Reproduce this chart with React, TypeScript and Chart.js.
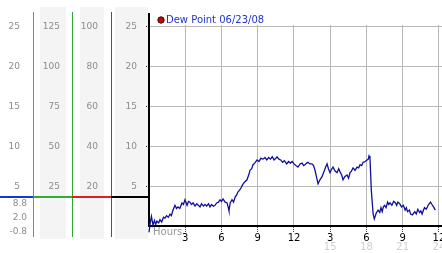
import React, { useEffect, useRef } from 'react';
import { Chart, registerables } from 'chart.js';

Chart.register(...registerables);

// ---------- data ----------
const seriesLabel = 'Dew Point 06/23/08';

const hours = [
  0.00, 0.10, 0.20, 0.33, 0.45, 0.55, 0.65, 0.80, 0.91, 1.05, 1.20, 1.32, 1.45, 1.60, 1.74, 1.85,
  1.99, 2.15, 2.28, 2.40, 2.55, 2.73, 2.85, 2.98, 3.15, 3.27, 3.39, 3.52, 3.65, 3.81, 3.95, 4.08,
  4.22, 4.35, 4.50, 4.64, 4.78, 4.92, 5.05, 5.18, 5.32, 5.46, 5.60, 5.75, 5.88, 6.00, 6.13, 6.30,
  6.46, 6.55, 6.62, 6.72, 6.87, 7.00, 7.12, 7.25, 7.37, 7.50, 7.62, 7.75, 7.90, 8.11, 8.25, 8.36,
  8.50, 8.61, 8.75, 8.94, 9.10, 9.25, 9.44, 9.60, 9.75, 9.90, 10.05, 10.20, 10.35, 10.50, 10.60, 10.75,
  10.90, 11.05, 11.20, 11.40, 11.55, 11.70, 11.85, 12.00, 12.15, 12.33, 12.50, 12.67, 12.80, 12.91, 13.05, 13.16,
  13.30, 13.49, 13.62, 13.74, 13.87, 13.99, 14.15, 14.32, 14.50, 14.62, 14.74, 14.85, 14.98, 15.10, 15.23, 15.40,
  15.56, 15.70, 15.81, 15.95, 16.06, 16.20, 16.39, 16.52, 16.64, 16.75, 16.89, 17.05, 17.22, 17.35, 17.47, 17.60,
  17.72, 17.90, 18.05, 18.15, 18.21, 18.29, 18.40, 18.55, 18.65, 18.80, 18.96, 19.10, 19.20, 19.30, 19.40, 19.50,
  19.62, 19.75, 19.85, 19.95, 20.10, 20.25, 20.40, 20.50, 20.60, 20.75, 20.90, 21.05, 21.20, 21.30, 21.40, 21.55,
  21.65, 21.80, 21.90, 22.00, 22.12, 22.25, 22.40, 22.50, 22.60, 22.72, 22.80, 22.95, 23.10, 23.20, 23.30, 23.42,
  23.55, 23.70,
];

const dewPoint = [
  -0.8, 0.4, 1.2, 0.1, 0.7, 0.2, 0.6, 0.4, 0.8, 0.5, 1.1, 1.0, 1.3, 1.1, 1.5, 1.3,
  2.0, 2.6, 2.2, 2.4, 2.2, 2.9, 2.7, 3.3, 2.6, 3.1, 3.0, 2.7, 2.9, 2.5, 2.8, 2.6,
  2.4, 2.8, 2.5, 2.7, 2.5, 2.8, 2.4, 2.7, 2.5, 2.6, 2.9, 3.0, 3.3, 3.1, 3.4, 3.0,
  2.9, 2.4, 1.9, 2.9, 3.3, 3.0, 3.6, 3.9, 4.3, 4.5, 4.8, 5.2, 5.5, 5.8, 6.4, 7.0,
  7.2, 7.7, 7.9, 8.3, 8.1, 8.5, 8.4, 8.6, 8.3, 8.6, 8.4, 8.7, 8.3, 8.5, 8.7, 8.4,
  8.3, 8.0, 8.2, 7.8, 8.1, 7.9, 8.1, 7.8, 7.6, 7.4, 7.8, 7.9, 7.6, 7.7, 7.9, 8.0,
  7.8, 7.8, 7.6, 7.0, 6.1, 5.3, 5.8, 6.2, 6.9, 7.4, 7.8, 7.2, 6.7, 7.1, 7.4, 6.9,
  6.7, 7.2, 6.8, 6.4, 5.8, 6.2, 6.4, 6.0, 6.7, 6.9, 7.3, 7.0, 7.4, 7.3, 7.7, 7.6,
  8.0, 8.1, 8.3, 8.4, 8.8, 8.5, 4.5, 1.5, 0.9, 1.6, 2.0, 1.7, 2.3, 1.8, 2.4, 2.6,
  2.3, 3.0, 2.7, 2.9, 2.6, 3.1, 2.9, 2.6, 3.0, 2.8, 2.4, 2.6, 2.0, 2.3, 1.8, 2.0,
  1.5, 1.4, 1.6, 1.8, 1.5, 2.1, 1.7, 1.9, 1.5, 2.0, 2.3, 2.1, 2.6, 2.8, 3.0, 2.7,
  2.4, 2.0,
];

// left-hand scale columns
const dewTicks = [5, 10, 15, 20, 25];
const col2Ticks = [25, 50, 75, 100, 125];
const col3Ticks = [20, 40, 60, 80, 100];

// x axis
const xTickHours = [3, 6, 9, 12, 15, 18, 21, 24];
const xTickLabels = ['3', '6', '9', '12', '3', '6', '9', '12'];
const xSubLabels = ['', '', '', '', '15', '18', '21', '24'];
const hoursTitle = 'Hours';

// stats (max, current, min) and level marker
const statLabels = ['8.8', '2.0', '-0.8'];
const markerValue = 3.6;

// ---------- styles ----------
const FONT = 'DejaVu Sans';
const TICK_GRAY = '#8c8c8c';
const GRID = '#b8b8b8';
const LINE_BLUE = '#10109c';
const COL_COLORS = ['#3a9ad2', '#2fa82f', '#c42222'];
const MARK_COLORS = ['#1438d0', '#2fb02f', '#e02020', '#000000'];

const decorPlugin = {
  id: 'decor',
  beforeDraw(chart: any) {
    const { ctx, scales } = chart;
    const s2 = scales.y2, s3 = scales.y3, s4 = scales.y;
    ctx.save();
    ctx.fillStyle = '#f4f4f4';
    const top = 7, bottom = 239;
    ctx.fillRect(s2.left + 7, top, s2.right - s2.left - 13, bottom - top);
    ctx.fillRect(s3.left + 8, top, s3.right - s3.left - 15, bottom - top);
    ctx.fillRect(s4.left + 4, top, s4.right - s4.left - 5, bottom - top);
    ctx.restore();
  },
  afterDraw(chart: any) {
    const { ctx, scales, chartArea } = chart;
    const cols = [scales.y1, scales.y2, scales.y3];
    ctx.save();
    // coloured column separators
    cols.forEach((s: any, i: number) => {
      ctx.fillStyle = COL_COLORS[i];
      ctx.fillRect(Math.round(s.right), 12, 1, 225);
    });
    // main axis extension above plot
    ctx.fillStyle = '#000';
    ctx.fillRect(148, 13, 2, chartArea.top - 13);

    // level marker
    const my = scales.y.getPixelForValue(markerValue);
    const segs = [0, scales.y1.right, scales.y2.right, scales.y3.right, scales.y.right - 1];
    ctx.lineWidth = 2;
    for (let i = 0; i < 4; i++) {
      ctx.strokeStyle = MARK_COLORS[i];
      ctx.beginPath();
      ctx.moveTo(segs[i], Math.round(my));
      ctx.lineTo(segs[i + 1], Math.round(my));
      ctx.stroke();
    }

    // stats text
    ctx.fillStyle = TICK_GRAY;
    ctx.font = `9px "${FONT}"`;
    ctx.textAlign = 'right';
    ctx.textBaseline = 'middle';
    const offs = [-22, -8, 6];
    statLabels.forEach((t, i) => {
      ctx.fillText(t, scales.y1.right - 6, chartArea.bottom + offs[i]);
    });

    // Hours label
    ctx.textAlign = 'left';
    ctx.font = `10px "${FONT}"`;
    ctx.fillStyle = '#999999';
    ctx.fillText(hoursTitle, chartArea.left + 4, chartArea.bottom + 6);

    // legend
    const lx = chartArea.left + 12, ly = chartArea.top - 5;
    ctx.beginPath();
    ctx.arc(lx, ly, 3.2, 0, Math.PI * 2);
    ctx.fillStyle = '#b01010';
    ctx.fill();
    ctx.strokeStyle = '#500000';
    ctx.lineWidth = 1;
    ctx.stroke();
    ctx.fillStyle = '#2233cc';
    ctx.font = `10px "${FONT}"`;
    ctx.fillText(chart.data.datasets[0].label, lx + 5, ly + 0.5);
    ctx.restore();
  },
};

function setTicks(list: number[]) {
  return (scale: any) => {
    scale.ticks = list.map((v) => ({ value: v }));
  };
}

function fitY(width: number) {
  return (scale: any) => {
    scale.width = width;
    scale.paddingTop = 0;
    scale.paddingBottom = 0;
  };
}

function fitX(height: number) {
  return (scale: any) => {
    scale.height = height;
    scale.paddingLeft = 0;
    scale.paddingRight = 0;
  };
}

export default function App() {
  const ref = useRef<HTMLCanvasElement>(null);

  useEffect(() => {
    if (!ref.current) return;
    Chart.defaults.font.family = FONT;
    const yTickFont = { size: 9, family: FONT };
    const chart = new Chart(ref.current, {
      type: 'line',
      data: {
        datasets: [
          {
            label: seriesLabel,
            data: hours.map((h, i) => ({ x: h, y: dewPoint[i] })),
            borderColor: LINE_BLUE,
            borderWidth: 1.3,
            pointRadius: 0,
            tension: 0,
            fill: false,
            clip: false as any,
            xAxisID: 'x',
            yAxisID: 'y',
          },
        ],
      },
      options: {
        animation: false,
        responsive: false,
        devicePixelRatio: 1,
        events: [],
        layout: { padding: { top: 25, left: 0, right: 0, bottom: 0 } },
        plugins: { legend: { display: false }, tooltip: { enabled: false } },
        scales: {
          x: {
            type: 'linear',
            position: 'bottom',
            min: 0,
            max: 24.25,
            afterBuildTicks: setTicks(xTickHours),
            afterFit: fitX(27),
            grid: { color: GRID, lineWidth: 1, drawTicks: true, tickLength: 6, tickColor: '#444', tickBorderDash: [1, 1] as any },
            border: { display: true, color: '#000', width: 2 },
            ticks: {
              autoSkip: false,
              maxRotation: 0,
              padding: 0,
              color: '#000',
              font: { size: 10, family: FONT },
              callback: (_v: any, i: number) => xTickLabels[i],
            },
          },
          x2: {
            type: 'linear',
            position: { y: 0 },
            display: true,
            min: 0,
            max: 24.25,
            afterBuildTicks: setTicks(xTickHours),
            afterFit: fitX(0),
            grid: { display: false, drawTicks: false },
            border: { display: false },
            ticks: {
              autoSkip: false,
              maxRotation: 0,
              padding: 15,
              color: '#cfcfcf',
              font: { size: 10, family: FONT },
              callback: (_v: any, i: number) => xSubLabels[i],
            },
          },
          y1: {
            type: 'linear',
            position: 'left',
            weight: 3,
            display: true,
            min: 0,
            max: 25.25,
            afterBuildTicks: setTicks(dewTicks),
            afterFit: fitY(33),
            grid: { display: false, drawTicks: false },
            border: { display: false },
            ticks: { padding: 13, color: TICK_GRAY, font: yTickFont },
          },
          y2: {
            type: 'linear',
            position: 'left',
            weight: 2,
            display: true,
            min: 0,
            max: 126.25,
            afterBuildTicks: setTicks(col2Ticks),
            afterFit: fitY(39),
            grid: { display: false, drawTicks: false },
            border: { display: false },
            ticks: { padding: 12, color: TICK_GRAY, font: yTickFont },
          },
          y3: {
            type: 'linear',
            position: 'left',
            weight: 1,
            display: true,
            min: 0,
            max: 101,
            afterBuildTicks: setTicks(col3Ticks),
            afterFit: fitY(39),
            grid: { display: false, drawTicks: false },
            border: { display: false },
            ticks: { padding: 13, color: TICK_GRAY, font: yTickFont },
          },
          y: {
            type: 'linear',
            position: 'left',
            weight: 0,
            min: 0,
            max: 25.25,
            afterBuildTicks: setTicks(dewTicks),
            afterFit: fitY(38),
            grid: { color: GRID, lineWidth: 1, drawTicks: true, tickLength: 3, tickColor: '#333', tickBorderDash: [1, 1] as any },
            border: { display: true, color: '#000', width: 2 },
            ticks: { padding: 9, color: TICK_GRAY, font: yTickFont },
          },
        },
      } as any,
      plugins: [decorPlugin],
    });
    return () => chart.destroy();
  }, []);

  return (
    <div style={{ position: 'absolute', left: 0, top: 0, width: 442, height: 253, background: '#fff' }}>
      <canvas ref={ref} width={442} height={253} style={{ display: 'block' }} />
    </div>
  );
}
